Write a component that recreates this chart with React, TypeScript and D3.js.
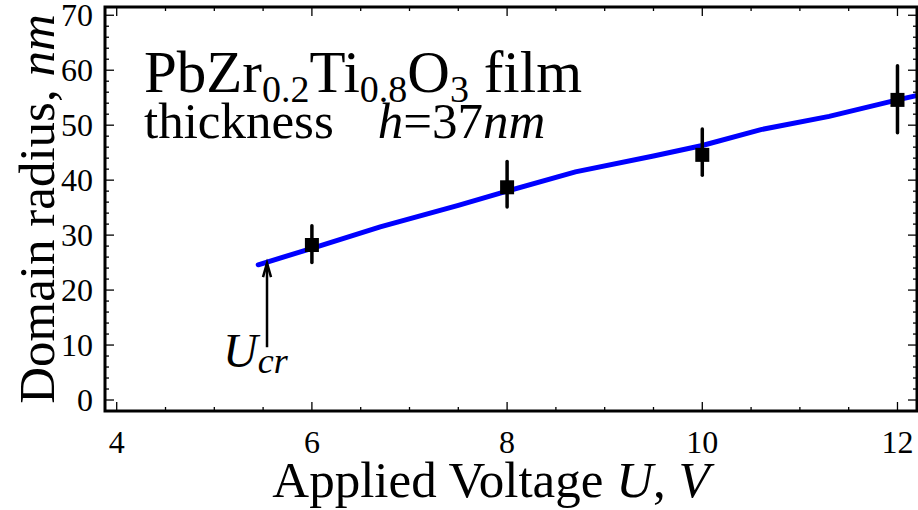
import * as d3 from "d3";

// measured points (PbZr0.2Ti0.8O3, h = 37 nm)
const voltage = [6, 8, 10, 12];
const radius = [28.2, 38.7, 44.6, 54.6];
const errLow = [25.0, 35.1, 40.9, 48.6];
const errHigh = [31.7, 43.4, 49.3, 60.8];

// theory curve
const theoryU = [5.45, 6, 6.7, 7.5, 8, 8.7, 9.5, 10, 10.6, 11.3, 12, 12.3];
const theoryR = [24.6, 27.6, 31.5, 35.4, 38.0, 41.5, 44.4, 46.3, 49.2, 51.6, 54.6, 55.8];

const xTicks = [4, 6, 8, 10, 12];
const yTicks = [0, 10, 20, 30, 40, 50, 60, 70];

// critical voltage arrow
const uCr = 5.54;
const arrowFrom = 9.6;
const arrowTo = 25.1;

const W = 918;
const H = 510;
const left = 105, right = 917, top = 7, bottom = 411;
const font = "Liberation Serif, Times New Roman, serif";

export default function App() {
  const x = d3.scaleLinear().domain([3.88, 12.2]).range([left, right]);
  const y = d3.scaleLinear().domain([-2, 71.5]).range([bottom, top]);

  const line = d3
    .line<number>()
    .x((d, i) => x(theoryU[i]))
    .y((d) => y(d));

  const xMinor = d3.range(4, 12.01, 0.5);
  const yMinor = d3.range(0, 71, 2);

  return (
    <svg
      width={W}
      height={H}
      style={{ position: "absolute", left: 0, top: 0, background: "#fff", fontFamily: font }}
    >
      <defs>
        <clipPath id="plot">
          <rect x={left} y={top} width={right - left} height={bottom - top} />
        </clipPath>
      </defs>

      {/* ticks inside the frame */}
      <g stroke="#000" strokeWidth={1.3}>
        {xMinor.map((v) => {
          const len = v % 2 === 0 ? 9 : 4;
          return (
            <g key={"x" + v}>
              <line x1={x(v)} x2={x(v)} y1={bottom} y2={bottom - len} />
              <line x1={x(v)} x2={x(v)} y1={top} y2={top + len} />
            </g>
          );
        })}
        {yMinor.map((v) => {
          const len = v % 10 === 0 ? 9 : 4;
          return (
            <g key={"y" + v}>
              <line x1={left} x2={left + len} y1={y(v)} y2={y(v)} />
              <line x1={right} x2={right - len} y1={y(v)} y2={y(v)} />
            </g>
          );
        })}
      </g>

      {/* tick labels */}
      <g fill="#000">
        {xTicks.map((v) => (
          <text key={v} x={x(v)} y={453} textAnchor="middle" fontSize={32} style={{ fontFamily: font }}>
            {v}
          </text>
        ))}
        {yTicks.map((v) => (
          <text key={v} x={93} y={y(v) + 11} textAnchor="end" fontSize={32} style={{ fontFamily: font }}>
            {v}
          </text>
        ))}
      </g>

      {/* theory curve */}
      <path
        d={line(theoryR) || ""}
        fill="none"
        stroke="#0000ff"
        strokeWidth={5}
        strokeLinecap="round"
        clipPath="url(#plot)"
      />

      {/* data with error bars */}
      <g fill="#000" stroke="#000">
        {voltage.map((v, i) => (
          <g key={v}>
            <line
              x1={x(v)}
              x2={x(v)}
              y1={y(errLow[i])}
              y2={y(errHigh[i])}
              strokeWidth={3.5}
              strokeLinecap="round"
            />
            <rect x={x(v) - 7} y={y(radius[i]) - 7} width={14} height={14} stroke="none" />
          </g>
        ))}
      </g>

      {/* frame */}
      <rect
        x={left}
        y={top}
        width={right - left}
        height={bottom - top}
        fill="none"
        stroke="#000"
        strokeWidth={3}
      />

      {/* U_cr arrow */}
      <g stroke="#000" strokeWidth={2.5} fill="none">
        <line x1={x(uCr)} x2={x(uCr)} y1={y(arrowFrom)} y2={y(arrowTo) + 2} />
        <path
          d={`M${x(uCr) - 4},${y(arrowTo) + 15} L${x(uCr)},${y(arrowTo) + 1} L${x(uCr) + 4},${y(arrowTo) + 15}`}
        />
      </g>
      <text x={223} y={367} fontSize={48} fontStyle="italic" style={{ fontFamily: font }}>
        U
        <tspan fontSize={36} dy={6}>
          cr
        </tspan>
      </text>

      {/* annotation */}
      <text x={144} y={92} fontSize={59} style={{ fontFamily: font }}>
        PbZr
        <tspan fontSize={38} dy={10}>0.2</tspan>
        <tspan dy={-10}>Ti</tspan>
        <tspan fontSize={38} dy={10}>0.8</tspan>
        <tspan dy={-10}>O</tspan>
        <tspan fontSize={38} dy={10}>3</tspan>
        <tspan dy={-10}> film</tspan>
      </text>
      <text x={144} y={138} fontSize={51} style={{ fontFamily: font }}>
        thickness
        <tspan dx={44} fontStyle="italic">h</tspan>
        <tspan>=37</tspan>
        <tspan fontStyle="italic">nm</tspan>
      </text>

      {/* axis titles */}
      <text x={491} y={497} fontSize={51} textAnchor="middle" style={{ fontFamily: font }}>
        Applied Voltage <tspan fontStyle="italic">U</tspan>, <tspan fontStyle="italic">V</tspan>
      </text>
      <text
        transform={`translate(54, ${(top + bottom) / 2}) rotate(-90)`}
        fontSize={51}
        textAnchor="middle"
        style={{ fontFamily: font }}
      >
        Domain radius, <tspan fontStyle="italic">nm</tspan>
      </text>
    </svg>
  );
}
